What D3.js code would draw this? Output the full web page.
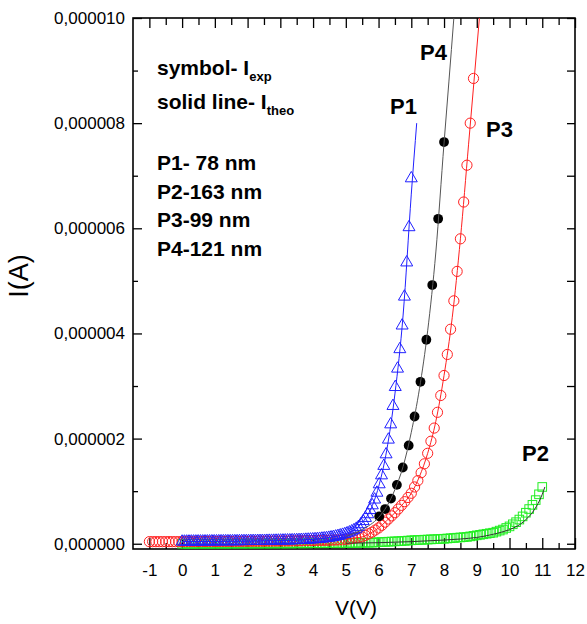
<!DOCTYPE html>
<html>
<head>
<meta charset="utf-8">
<script src="https://cdn.jsdelivr.net/npm/d3@7"></script>
<style>
  body { margin: 0; background: #fff; }
  svg { display: block; font-family: "Liberation Sans", Arial, sans-serif; }
</style>
</head>
<body>
<div id="chart"></div>
<script>
// currents are in microampere, the axis shows them in A

// P1 - experimental (triangles)
var p1V = [0,0.07,0.14,0.21,0.28,0.35,0.42,0.49,0.56,0.63,0.7,0.77,0.84,0.91,0.98,1.05,1.12,1.19,1.26,1.33,
  1.4,1.47,1.54,1.61,1.68,1.75,1.82,1.89,1.96,2.03,2.1,2.17,2.24,2.31,2.38,2.45,2.52,2.59,2.66,2.73,
  2.8,2.87,2.94,3.01,3.08,3.15,3.22,3.29,3.36,3.43,3.5,3.57,3.64,3.71,3.78,3.85,3.92,3.99,4.06,4.13,
  4.2,4.27,4.34,4.41,4.48,4.55,4.62,4.69,4.76,4.83,4.9,4.97,5.04,5.11,5.18,5.25,5.32,5.39,5.46,5.53,
  5.6,5.67,5.74,5.81,5.88,5.95,6.02,6.09,6.16,6.23,6.3,6.37,6.44,6.51,6.58,6.65,6.72,6.79,6.86,6.93,7.0];
var p1I = [.040,.040,.041,.041,.042,.042,.042,.043,.043,.043,.044,
  .044,.044,.045,.045,.045,.046,.046,.046,.047,.047,
  .047,.048,.048,.048,.049,.049,.050,.050,.051,.051,
  .052,.052,.053,.053,.054,.054,.055,.056,.056,.057,
  .058,.059,.060,.061,.062,.063,.064,.066,.067,.069,
  .070,.072,.074,.076,.078,.080,.083,.086,.089,.093,
  .097,.102,.107,.113,.120,.128,.137,.147,.158,.170,
  .183,.198,.215,.235,.258,.285,.32,.37,.43,.49,
  .56,.64,.73,.84,.97,1.13,1.30,1.48,1.70,1.98,
  2.27,2.62,2.98,3.33,3.70,4.15,4.70,5.35,6.02,6.95];

// P2 - experimental (squares)
var p2V = [0,0.1,0.2,0.3,0.4,0.5,0.6,0.7,0.8,0.9,1,1.1,1.2,1.3,1.4,1.5,1.6,1.7,1.8,1.9,
  2,2.1,2.2,2.3,2.4,2.5,2.6,2.7,2.8,2.9,3,3.1,3.2,3.3,3.4,3.5,3.6,3.7,3.8,3.9,
  4,4.1,4.2,4.3,4.4,4.5,4.6,4.7,4.8,4.9,5,5.1,5.2,5.3,5.4,5.5,5.6,5.7,5.8,5.9,
  6,6.1,6.2,6.3,6.4,6.5,6.6,6.7,6.8,6.9,7,7.1,7.2,7.3,7.4,7.5,7.6,7.7,7.8,7.9,
  8,8.1,8.2,8.3,8.4,8.5,8.6,8.7,8.8,8.9,9,9.1,9.2,9.3,9.4,9.5,9.6,9.7,9.8,9.9,
  10,10.1,10.2,10.3,10.4,10.5,10.6,10.7,10.8,10.9,11];
var p2I = [.000,.000,.001,.001,.001,.001,.002,.002,.002,.002,
  .002,.003,.003,.003,.003,.003,.004,.004,.004,.004,
  .004,.004,.005,.005,.005,.005,.005,.006,.006,.006,
  .006,.006,.007,.007,.007,.007,.008,.008,.008,.009,
  .009,.009,.010,.010,.010,.011,.011,.012,.012,.013,
  .013,.014,.015,.016,.017,.018,.019,.020,.022,.024,
  .030,.033,.036,.039,.042,.045,.048,.052,.056,.060,
  .065,.068,.071,.074,.077,.080,.083,.086,.089,.092,
  .095,.100,.105,.110,.115,.120,.125,.130,.140,.150,
  .16,.17,.18,.19,.20,.21,.23,.25,.27,.30,
  .33,.37,.41,.46,.52,.59,.66,.74,.83,.94,1.08];

// P3 - experimental (open circles)
var p3V = [-1,-0.9,-0.8,-0.7,-0.6,-0.5,-0.4,-0.3,-0.2,-0.1,
  0,0.1,0.2,0.3,0.4,0.5,0.6,0.7,0.8,0.9,1,1.1,1.2,1.3,1.4,1.5,1.6,1.7,1.8,1.9,
  2,2.1,2.2,2.3,2.4,2.5,2.6,2.7,2.8,2.9,3,3.1,3.2,3.3,3.4,3.5,3.6,3.7,3.8,3.9,
  4,4.1,4.2,4.3,4.4,4.5,4.6,4.7,4.8,4.9,5,5.1,5.2,5.3,5.4,5.5,5.6,5.7,5.8,5.9,
  6,6.1,6.2,6.3,6.4,6.5,6.6,6.7,6.8,6.9,7,7.1,7.2,7.3,7.4,7.5,7.6,7.7,7.8,7.9,
  8,8.1,8.2,8.3,8.4,8.5,8.6,8.7,8.8,8.9];
var p3I = [.040,.040,.040,.040,.040,.040,.040,.040,.040,.040,
  .040,.040,.041,.041,.041,.042,.042,.042,.043,.043,
  .043,.044,.044,.044,.045,.045,.045,.046,.046,.046,
  .047,.047,.048,.048,.049,.049,.050,.050,.051,.051,
  .052,.053,.053,.054,.055,.056,.057,.058,.059,.060,
  .061,.062,.063,.065,.066,.068,.070,.072,.074,.076,
  .085,.090,.100,.110,.120,.130,.160,.190,.220,.260,
  .30,.35,.41,.47,.53,.59,.66,.73,.80,.88,
  .96,1.08,1.20,1.35,1.52,1.72,1.95,2.20,2.50,2.82,
  3.20,3.60,4.08,4.62,5.18,5.80,6.50,7.20,8.00,8.85];

// P4 - experimental (filled circles)
var p4V = [6.02,6.20,6.38,6.56,6.74,6.92,7.10,7.28,7.46,7.64,7.82,8.00];
var p4I = [.52,.66,.86,1.12,1.45,1.87,2.42,3.08,3.88,4.92,6.18,7.64];

// theoretical curves (solid lines)
var p1TheoV = [0,1,2,3,4,4.5,5,5.25,5.5,5.75,6,6.25,6.5,6.75,7,7.165];
var p1TheoI = [.04,.045,.051,.06,.083,.12,.19,.26,.40,.64,1.08,1.78,2.85,4.35,6.65,8.0];
var p2TheoV = [5,6,7,8,8.5,9,9.5,10,10.25,10.5,10.75,11,11.08];
var p2TheoI = [.01,.02,.04,.07,.09,.12,.18,.27,.34,.46,.64,.94,1.08];
var p3TheoV = [5,5.25,5.5,5.75,6,6.25,6.5,6.75,7,7.25,7.5,7.75,8,8.25,8.5,8.75,9.08];
var p3TheoI = [.085,.11,.13,.20,.30,.44,.59,.76,.96,1.28,1.72,2.33,3.20,4.30,5.80,7.60,10.0];
var p4TheoV = [5,5.5,6,6.25,6.5,6.75,7,7.25,7.5,7.75,8,8.15,8.3];
var p4TheoI = [.14,.27,.50,.71,1.03,1.47,2.12,2.95,4.05,5.55,7.62,8.8,10.0];

// axis ticks
var xMajor = [-1,0,1,2,3,4,5,6,7,8,9,10,11,12];
var xMinor = [-0.5,0.5,1.5,2.5,3.5,4.5,5.5,6.5,7.5,8.5,9.5,10.5,11.5];
var yMajor = [0,2,4,6,8,10];
var yMinor = [1,3,5,7,9];

var legendLines = ["P1- 78 nm", "P2-163 nm", "P3-99 nm", "P4-121 nm"];

var width = 587, height = 624;
var svg = d3.select("#chart").append("svg")
    .attr("width", width)
    .attr("height", height);

var x = d3.scaleLinear().domain([-1.5, 12]).range([133, 575]);
var y = d3.scaleLinear().domain([-0.1, 10]).range([549, 18]);

var fmtY = function(d) { return d3.format(".6f")(d * 1e-6).replace(".", ","); };

function styleAxis(g) {
  g.select(".domain").remove();
  g.selectAll(".tick line").attr("stroke", "#000").attr("stroke-width", 1.3);
  g.selectAll("text").attr("fill", "#000")
    .attr("font-size", 17)
    .attr("font-family", "'Liberation Sans', Arial, sans-serif");
}

// bottom
svg.append("g").attr("transform", "translate(0,549)")
    .call(d3.axisBottom(x).tickValues(xMajor).tickSize(-11).tickPadding(15)
      .tickFormat(function(d) { return String(d); }))
    .call(styleAxis);
svg.append("g").attr("transform", "translate(0,549)")
    .call(d3.axisBottom(x).tickValues(xMinor).tickSize(-6).tickFormat(""))
    .call(styleAxis);
// top
svg.append("g").attr("transform", "translate(0,18)")
    .call(d3.axisTop(x).tickValues(xMajor).tickSize(-10).tickFormat(""))
    .call(styleAxis);
svg.append("g").attr("transform", "translate(0,18)")
    .call(d3.axisTop(x).tickValues(xMinor).tickSize(-7).tickFormat(""))
    .call(styleAxis);
// left
svg.append("g").attr("transform", "translate(133,0)")
    .call(d3.axisLeft(y).tickValues(yMajor).tickSize(-9).tickPadding(8).tickFormat(fmtY))
    .call(styleAxis);
svg.append("g").attr("transform", "translate(133,0)")
    .call(d3.axisLeft(y).tickValues(yMinor).tickSize(-5).tickFormat(""))
    .call(styleAxis);
// right
svg.append("g").attr("transform", "translate(575,0)")
    .call(d3.axisRight(y).tickValues(yMajor.concat(yMinor)).tickSize(-8).tickFormat(""))
    .call(styleAxis);

// frame
svg.append("rect")
    .attr("x", x.range()[0]).attr("y", y.range()[1])
    .attr("width", x.range()[1] - x.range()[0])
    .attr("height", y.range()[0] - y.range()[1])
    .attr("fill", "none").attr("stroke", "#000").attr("stroke-width", 1.6);

function pts(vs, is) { return vs.map(function(v, i) { return [v, is[i]]; }); }

var plot = svg.append("g");

// P2 squares
plot.append("g").selectAll("rect")
    .data(pts(p2V, p2I)).enter().append("rect")
    .attr("x", function(d) { return x(d[0]) - 4.3; })
    .attr("y", function(d) { return y(d[1]) - 4.3; })
    .attr("width", 8.6).attr("height", 8.6)
    .attr("fill", "none").attr("stroke", "#22ee22").attr("stroke-width", 1);

// P3 open circles
plot.append("g").selectAll("circle")
    .data(pts(p3V, p3I)).enter().append("circle")
    .attr("cx", function(d) { return x(d[0]); })
    .attr("cy", function(d) { return y(d[1]); })
    .attr("r", 5.1)
    .attr("fill", "none").attr("stroke", "#ff2020").attr("stroke-width", 1);

// P1 triangles
var tri = d3.symbol().type(d3.symbolTriangle).size(62);
plot.append("g").selectAll("path")
    .data(pts(p1V, p1I)).enter().append("path")
    .attr("d", tri)
    .attr("transform", function(d) { return "translate(" + x(d[0]) + "," + y(d[1]) + ")"; })
    .attr("fill", "none").attr("stroke", "#2020ff").attr("stroke-width", 1);

// P4 filled circles
plot.append("g").selectAll("circle")
    .data(pts(p4V, p4I)).enter().append("circle")
    .attr("cx", function(d) { return x(d[0]); })
    .attr("cy", function(d) { return y(d[1]); })
    .attr("r", 4.9)
    .attr("fill", "#000");

// theoretical lines
var line = d3.line()
    .x(function(d) { return x(d[0]); })
    .y(function(d) { return y(d[1]); })
    .curve(d3.curveMonotoneX);

var theo = [
  {v: p2TheoV, i: p2TheoI, c: "#333"},
  {v: p3TheoV, i: p3TheoI, c: "#ff2020"},
  {v: p1TheoV, i: p1TheoI, c: "#2020ff"},
  {v: p4TheoV, i: p4TheoI, c: "#555"}
];
theo.forEach(function(s) {
  plot.append("path")
      .attr("d", line(pts(s.v, s.i)))
      .attr("fill", "none").attr("stroke", s.c).attr("stroke-width", 1);
});

// legend text
var legend = svg.append("g").attr("font-weight", "bold").attr("font-size", 21).attr("fill", "#000");
var t1 = legend.append("text").attr("x", 157).attr("y", 75);
t1.append("tspan").text("symbol- I");
t1.append("tspan").attr("font-size", 13).attr("dy", 6).text("exp");
var t2 = legend.append("text").attr("x", 157).attr("y", 109);
t2.append("tspan").text("solid line- I");
t2.append("tspan").attr("font-size", 13).attr("dy", 6).text("theo");
legend.selectAll(".pl").data(legendLines).enter().append("text")
    .attr("class", "pl")
    .attr("x", 157)
    .attr("y", function(d, i) { return 170 + i * 28.6; })
    .text(function(d) { return d; });

// curve labels
var curveLabels = svg.append("g").attr("font-weight", "bold").attr("font-size", 22);
curveLabels.append("text").attr("x", 390).attr("y", 114).text("P1");
curveLabels.append("text").attr("x", 522).attr("y", 461).text("P2");
curveLabels.append("text").attr("x", 486).attr("y", 137).text("P3");
curveLabels.append("text").attr("x", 420).attr("y", 60).text("P4");

// axis titles
svg.append("text")
    .attr("transform", "translate(28,276) rotate(-90)")
    .attr("text-anchor", "middle")
    .attr("font-size", 27)
    .text("I(A)");
svg.append("text")
    .attr("x", 356).attr("y", 615)
    .attr("text-anchor", "middle")
    .attr("font-size", 21)
    .text("V(V)");
</script>
</body>
</html>
